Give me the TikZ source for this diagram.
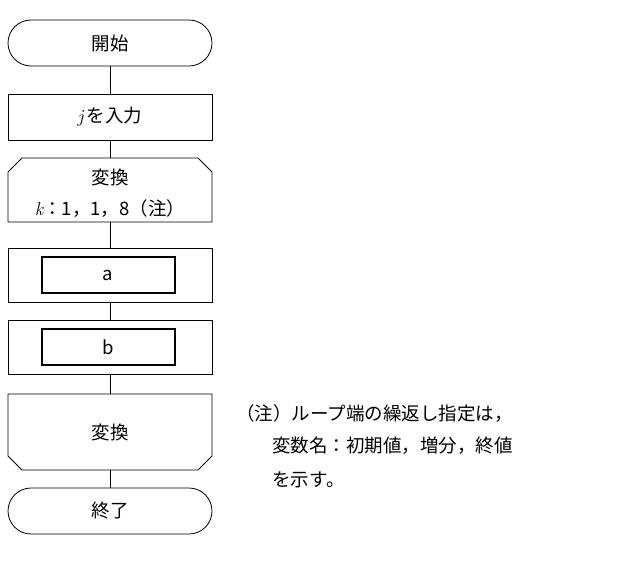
\documentclass[tikz,border=0pt]{standalone}
\usepackage{fontspec}
\newfontfamily\cjk{Noto Sans CJK JP}
\newcommand{\ivar}[1]{{\rmfamily\itshape #1}}
\begin{document}
\begin{tikzpicture}[x=1pt,y=-1pt,line width=0.8pt,
  txt/.style={font=\cjk\fontsize{18.5}{22}\selectfont,inner sep=0pt}]
\useasboundingbox (0,0) rectangle (642,563);
\draw[rounded corners=23pt] (8,20) rectangle (212,66);
\node[txt] (s) at (110,43) {開始};
\draw (8,94) rectangle (212,140);
\node[txt] (in) at (110,117) {\ivar{j}\,を入力};
\draw (22,158) -- (198,158) -- (212,172) -- (212,222) -- (8,222) -- (8,172) -- cycle;
\node[txt] (l1) at (110,177) {変換};
\node[txt] (l2) at (110,209) {\ivar{k}：1，1，8（注）};
\draw (8,248) rectangle (212,302);
\draw[line width=1.8pt] (42,257) rectangle (175,293);
\node[txt] (a) at (108,275) {a};
\draw (8,320) rectangle (212,374);
\draw[line width=1.8pt] (42,329) rectangle (175,365);
\node[txt] (b) at (108,347) {b};
\draw (8,394) -- (212,394) -- (212,456) -- (198,470) -- (22,470) -- (8,456) -- cycle;
\node[txt] (le) at (110,432) {変換};
\draw[rounded corners=23pt] (8,488) rectangle (212,534);
\node[txt] (e) at (110,511) {終了};
\draw (110,66) -- (110,94);
\draw (110,140) -- (110,158);
\draw (110,222) -- (110,248);
\draw (110,302) -- (110,320);
\draw (110,374) -- (110,394);
\draw (110,470) -- (110,488);
\node[txt,anchor=west] (n1) at (236,414) {（注）ループ端の繰返し指定は，};
\node[txt,anchor=west] (n2) at (272,446) {変数名：初期値，増分，終値};
\node[txt,anchor=west] (n3) at (272,480) {を示す。};
\end{tikzpicture}
\end{document}
